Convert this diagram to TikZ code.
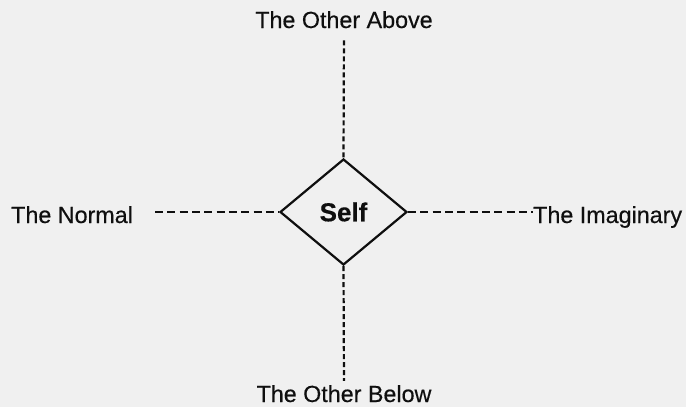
\documentclass[tikz,border=0pt]{standalone}
\usepackage{fontspec}
\setmainfont{Liberation Sans}[FakeBold=0.4]
\newfontfamily\heavyfont{Liberation Sans}[FakeBold=0.4]
\usetikzlibrary{shapes.geometric}
\definecolor{paper}{RGB}{240,240,240}
\definecolor{ink}{RGB}{15,15,15}
\begin{document}
\begin{tikzpicture}[x=1pt,y=-1pt,
  lbl/.style={inner sep=0pt, font=\fontsize{23.3}{27}\selectfont, text=ink},
  selfbox/.style={draw=ink, line width=2.2pt, shape=diamond, minimum width=127pt, minimum height=106pt, inner sep=0pt, font=\fontsize{26}{30}\selectfont\bfseries, text=ink},
  hdash/.style={draw=ink, line width=2.2pt, dash pattern=on 8pt off 4.3pt},
  vdash/.style={draw=ink, line width=2.2pt, dash pattern=on 5pt off 3pt}]
\fill[paper] (0,0) rectangle (686,407);
\useasboundingbox (0,0) rectangle (686,407);
\node[selfbox] (self) at (343.5,212) {Self};
\node[lbl, anchor=base] (above) at (344,28) {The Other Above};
\node[lbl, anchor=base] (below) at (344,402) {The Other Below};
\node[lbl, anchor=base west] (normal) at (11,223) {The Normal};
\node[lbl, anchor=base west] (imag) at (533,223) {The Imaginary};
\draw[vdash, shorten <=12pt] (above.south) -- (self.north);
\draw[vdash, shorten >=4pt] (self.south) -- (below.north);
\draw[hdash, shorten <=22pt] (self.west -| normal.east) -- (self.west);
\draw[hdash] (self.east) -- (self.east -| imag.west);
\end{tikzpicture}
\end{document}
